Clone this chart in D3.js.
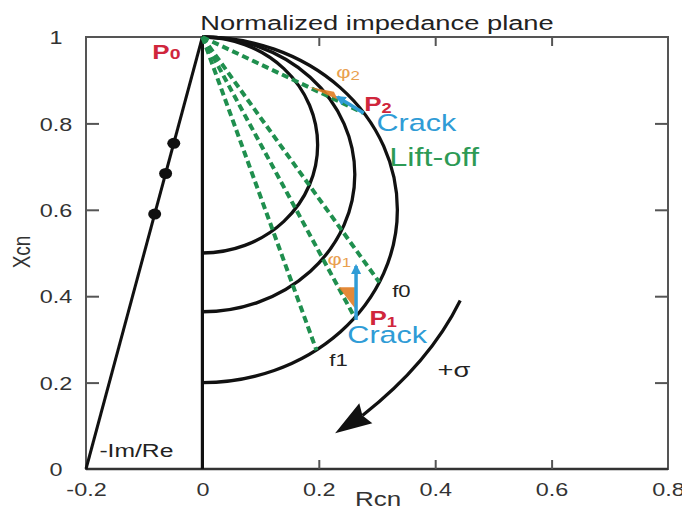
<!DOCTYPE html>
<html>
<head>
<meta charset="utf-8">
<script src="https://cdn.jsdelivr.net/npm/d3@7"></script>
<style>
  body { margin: 0; background: #fff; }
  svg { display: block; font-family: "Liberation Sans", Arial, sans-serif; }
</style>
</head>
<body>
<div id="chart"></div>
<script>
// 軸の目盛り
var xTicks = [-0.2, 0, 0.2, 0.4, 0.6, 0.8];
var xTickLabels = ["-0.2", "0", "0.2", "0.4", "0.6", "0.8"];
var yTicks = [0, 0.2, 0.4, 0.6, 0.8, 1];
var yTickLabels = ["0", "0.2", "0.4", "0.6", "0.8", "1"];

// 半円（P0 から下へ）: 下端の Xcn と 最大 Rcn
var arcBottom = [0.5, 0.364, 0.2];
var arcMaxR = [0.198, 0.262, 0.335];

// P0 とリフトオフ線の終点
var P0 = [0, 1];
var liftOffR = [0.277, 0.304, 0.262, 0.196];
var liftOffX = [0.824, 0.432, 0.35, 0.275];

// -Im/Re 線と点
var imReR = [-0.2, 0];
var imReX = [0, 1];
var dotX = [0.754, 0.684, 0.59];

// き裂ベクトル（始点・終点）
var crackFrom = [[0.277, 0.824], [0.264, 0.345]];
var crackTo = [[0.232, 0.861], [0.264, 0.47]];
// 位相角の三角形
var phiTri = [
  [[0.184, 0.884], [0.233, 0.855], [0.226, 0.873]],
  [[0.234, 0.421], [0.262, 0.421], [0.262, 0.372]]
];
// +σ の矢印（始点・制御点・終点・先端）
var sigmaArc = [[0.443, 0.39], [0.39, 0.245], [0.275, 0.124]];
var sigmaTip = [0.228, 0.083];

var W = 682, H = 507;
var SX = 1.3; // 元画像は横に伸びている

var svg = d3.select("#chart").append("svg").attr("width", W).attr("height", H);

var x = d3.scaleLinear().domain([-0.2, 0.8]).range([86, 668]);
var y = d3.scaleLinear().domain([0, 1]).range([469, 37]);

var red = "#d0263c", blue = "#2f9cd6", green = "#1f8f4e", orange = "#e07c22", phiCol = "#e9a04f";

// 文字（横に伸ばす）
function label(px, py, parts, size, color, weight) {
  var t = svg.append("text")
    .attr("transform", "translate(" + px + "," + py + ") scale(" + SX + ",1)")
    .attr("font-size", size)
    .attr("fill", color)
    .attr("font-weight", weight || "normal");
  parts.forEach(function (p) {
    t.append("tspan")
      .attr("font-size", p.size || size)
      .attr("dy", p.dy || 0)
      .text(p.text);
  });
  return t;
}

// 枠
svg.append("rect")
  .attr("x", x(-0.2)).attr("y", y(1))
  .attr("width", x(0.8) - x(-0.2)).attr("height", y(0) - y(1))
  .attr("fill", "none").attr("stroke", "#555").attr("stroke-width", 2);
svg.append("line")
  .attr("x1", x(-0.2)).attr("x2", x(0.8)).attr("y1", y(0)).attr("y2", y(0))
  .attr("stroke", "#333").attr("stroke-width", 2.5);

// 軸
var inner = [0.2, 0.4, 0.6];
var axB = svg.append("g").attr("transform", "translate(0," + y(0) + ")")
  .call(d3.axisBottom(x).tickValues(xTicks).tickSize(-9).tickPadding(14)
    .tickFormat(function (d, i) { return xTickLabels[i]; }));
var axT = svg.append("g").attr("transform", "translate(0," + y(1) + ")")
  .call(d3.axisTop(x).tickValues(inner).tickSize(-9).tickFormat(""));
var axL = svg.append("g").attr("transform", "translate(" + x(-0.2) + ",0)")
  .call(d3.axisLeft(y).tickValues(yTicks).tickSize(-13)
    .tickFormat(function (d, i) { return yTickLabels[i]; }));
var axR = svg.append("g").attr("transform", "translate(" + x(0.8) + ",0)")
  .call(d3.axisRight(y).tickValues([0.2, 0.4, 0.6, 0.8]).tickSize(-13).tickFormat(""));

[axB, axT, axL, axR].forEach(function (a) {
  a.select(".domain").remove();
  a.selectAll(".tick line").attr("stroke", "#555").attr("stroke-width", 2);
});
axB.selectAll(".tick line").filter(function (d) { return inner.indexOf(d) < 0; }).remove();
axL.selectAll(".tick line").filter(function (d) { return d == 0 || d == 1; }).remove();
axB.selectAll("text")
  .attr("font-size", 18).attr("fill", "#333")
  .attr("font-family", "Liberation Sans, Arial, sans-serif")
  .attr("transform", "scale(" + SX + ",1)");
axL.selectAll("text")
  .attr("font-size", 18).attr("fill", "#333")
  .attr("font-family", "Liberation Sans, Arial, sans-serif")
  .attr("text-anchor", "middle")
  .attr("x", 0)
  .attr("transform", "translate(-30,1) scale(" + SX + ",1)");

// 軸ラベル
svg.append("text")
  .attr("transform", "translate(" + 30 + "," + 252 + ") scale(" + SX + ",1) rotate(-90)")
  .attr("text-anchor", "middle").attr("font-size", 19).attr("fill", "#333").text("Xcn");
svg.append("text")
  .attr("transform", "translate(" + 378 + "," + 506 + ") scale(" + SX + ",1)")
  .attr("text-anchor", "middle").attr("font-size", 20).attr("fill", "#333").text("Rcn");

// タイトル
svg.append("text")
  .attr("transform", "translate(" + 377 + "," + 30 + ") scale(" + SX + ",1)")
  .attr("text-anchor", "middle").attr("font-size", 21).attr("fill", "#222")
  .text("Normalized impedance plane");

// Rcn = 0 の線
svg.append("line")
  .attr("x1", x(0)).attr("x2", x(0)).attr("y1", y(0)).attr("y2", y(1))
  .attr("stroke", "#111").attr("stroke-width", 3.2);

// -Im/Re 線
svg.append("line")
  .attr("x1", x(imReR[0])).attr("y1", y(imReX[0]))
  .attr("x2", x(imReR[1])).attr("y2", y(imReX[1]))
  .attr("stroke", "#111").attr("stroke-width", 3);
svg.selectAll(".dot").data(dotX).enter().append("ellipse")
  .attr("cx", function (d) { return x(imReR[0] + (imReR[1] - imReR[0]) * d); })
  .attr("cy", function (d) { return y(d); })
  .attr("rx", 6.5).attr("ry", 5.5).attr("fill", "#111");

// 半円
svg.selectAll(".arc").data(arcBottom).enter().append("path")
  .attr("d", function (d, i) {
    var ry = (y(d) - y(1)) / 2;
    var rx = x(arcMaxR[i]) - x(0);
    return "M" + x(0) + "," + y(1) + " A" + rx + "," + ry + " 0 0 1 " + x(0) + "," + y(d);
  })
  .attr("fill", "none").attr("stroke", "#111").attr("stroke-width", 3.3);

// リフトオフ線
svg.selectAll(".lift").data(liftOffR).enter().append("line")
  .attr("x1", x(P0[0])).attr("y1", y(P0[1]))
  .attr("x2", function (d) { return x(d); })
  .attr("y2", function (d, i) { return y(liftOffX[i]); })
  .attr("stroke", green).attr("stroke-width", 4).attr("stroke-dasharray", "7,4");

// 位相角の三角形
svg.selectAll(".phi").data(phiTri).enter().append("path")
  .attr("d", function (d) {
    return "M" + d.map(function (p) { return x(p[0]) + "," + y(p[1]); }).join("L") + "Z";
  })
  .attr("fill", orange).attr("opacity", 0.9);

// き裂ベクトル
svg.append("defs").append("marker")
  .attr("id", "ah").attr("viewBox", "0 0 10 10").attr("refX", 8).attr("refY", 5)
  .attr("markerWidth", 10).attr("markerHeight", 10).attr("markerUnits", "userSpaceOnUse")
  .attr("orient", "auto")
  .append("path").attr("d", "M0,0L10,5L0,10Z").attr("fill", blue);
svg.selectAll(".crack").data(crackFrom).enter().append("line")
  .attr("x1", function (d) { return x(d[0]); })
  .attr("y1", function (d) { return y(d[1]); })
  .attr("x2", function (d, i) { return x(crackTo[i][0]); })
  .attr("y2", function (d, i) { return y(crackTo[i][1]); })
  .attr("stroke", blue).attr("stroke-width", 3.5).attr("marker-end", "url(#ah)");

// +σ の矢印
var sp = d3.path();
sp.moveTo(x(sigmaArc[0][0]), y(sigmaArc[0][1]));
sp.quadraticCurveTo(x(sigmaArc[1][0]), y(sigmaArc[1][1]), x(sigmaArc[2][0]), y(sigmaArc[2][1]));
svg.append("path").attr("d", sp.toString())
  .attr("fill", "none").attr("stroke", "#111").attr("stroke-width", 3.2);
(function () {
  var ex = x(sigmaArc[2][0]), ey = y(sigmaArc[2][1]);
  var tx = x(sigmaTip[0]), ty = y(sigmaTip[1]);
  var dx = tx - ex, dy = ty - ey, len = Math.sqrt(dx * dx + dy * dy);
  var nx = -dy / len * 12, ny = dx / len * 12;
  var bx = ex - dx / len * 4, by = ey - dy / len * 4;
  svg.append("path")
    .attr("d", "M" + tx + "," + ty + "L" + (bx + nx) + "," + (by + ny) + "L" + (ex) + "," + (ey) +
      "L" + (bx - nx) + "," + (by - ny) + "Z")
    .attr("fill", "#111");
})();

// 注記
label(x(-0.086), y(0.949), [{ text: "P" }, { text: "0", size: 15 }], 20, red, "bold");
label(x(0.230), y(0.905), [{ text: "φ" }, { text: "2", size: 13, dy: 2 }], 17, phiCol);
label(x(0.278), y(0.829), [{ text: "P" }, { text: "2", size: 14, dy: 2 }], 20, red, "bold");
label(x(0.299), y(0.782), [{ text: "Crack" }], 23.5, blue);
label(x(0.321), y(0.701), [{ text: "Lift-off" }], 25, "#2d9a55");
label(x(0.215), y(0.472), [{ text: "φ" }, { text: "1", size: 13, dy: 2 }], 17, phiCol);
label(x(0.326), y(0.398), [{ text: "f0" }], 17, "#222");
label(x(0.287), y(0.333), [{ text: "P" }, { text: "1", size: 14, dy: 2 }], 20, red, "bold");
label(x(0.249), y(0.292), [{ text: "Crack" }], 23.5, blue);
label(x(0.218), y(0.238), [{ text: "f1" }], 17, "#222");
label(x(0.404), y(0.213), [{ text: "+σ" }], 21, "#222");
label(x(-0.177), y(0.028), [{ text: "-Im/Re" }], 19, "#222");
</script>
</body>
</html>
